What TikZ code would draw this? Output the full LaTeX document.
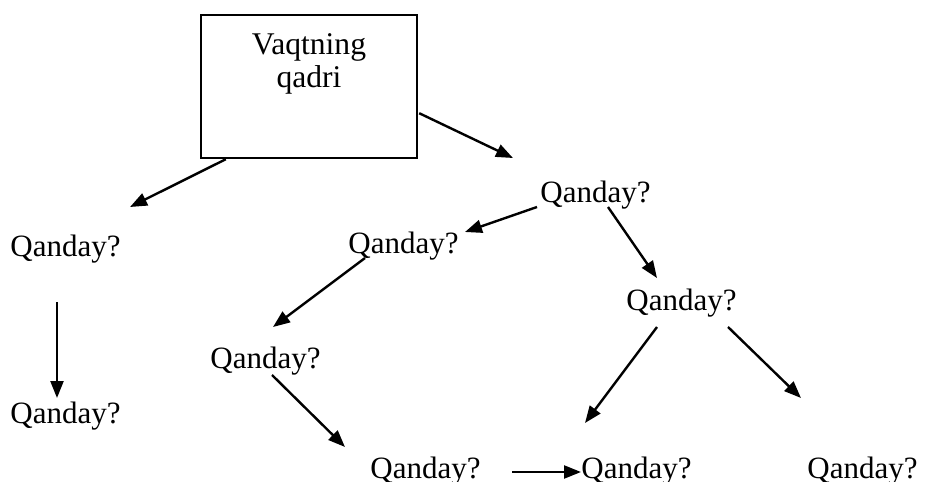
\documentclass[tikz,border=0pt]{standalone}
\usepackage{fontspec}
\setmainfont{Liberation Serif}
\usetikzlibrary{positioning}
\usetikzlibrary{calc}
\usetikzlibrary{arrows.meta}
\tikzset{>={Triangle[length=8.5pt,width=6.5pt]}}
\tikzset{titlebox/.style={rectangle, draw, line width=1.2pt, minimum width=108pt, minimum height=71.5pt, inner sep=0pt}}
\tikzset{titletext/.style={font=\fontsize{15.8}{16.5}\selectfont, align=center, inner sep=0pt, anchor=north}}
\tikzset{question/.style={font=\fontsize{15.5}{16.5}\selectfont, inner sep=0pt, anchor=base west}}
\tikzset{link/.style={->, line width=1.2pt}}

\begin{document}
\begin{tikzpicture}[x=0.5pt, y=-0.5pt]

    \useasboundingbox (0,0) rectangle (928,482);

    % Title box.
    \node [titlebox] (title) at (309,86.5) {};
    \node [titletext] (titlelabel) at ($(title.north) + (0,19)$) {Vaqtning\\qadri};

    % Questions.
    \node [question] (how0) at (540,202) {Qanday?};
    \node [question] (how1) at (10,256) {Qanday?};
    \node [question] (how2) at (10,423) {Qanday?};
    \node [question] (how3) at (348,253) {Qanday?};
    \node [question] (how4) at (626,310) {Qanday?};
    \node [question] (how5) at (210,368) {Qanday?};
    \node [question] (how6) at (370,478) {Qanday?};
    \node [question] (how7) at (581,478) {Qanday?};
    \node [question] (how8) at (807,478) {Qanday?};

    % Lines from the title box.
    \draw [link] ($(title.south west) + (26,0)$) -- ($(how1.base west) + (120,-49)$);
    \draw [link] ($(title.south east) + (1,-46)$) -- ($(how0.base west) + (-27,-44)$);

    % Left branch.
    \draw [link] ($(how1.base west) + (47,46)$) -- ($(how2.base west) + (47,-25)$);

    % Right branch.
    \draw [link] ($(how0.base west) + (-3,5)$) -- ($(how3.base west) + (117,-21)$);
    \draw [link] ($(how0.base west) + (68,5)$) -- ($(how4.base west) + (31,-32)$);
    \draw [link] ($(how3.base west) + (17,5)$) -- ($(how5.base west) + (63,-41)$);
    \draw [link] ($(how5.base west) + (62,7)$) -- ($(how6.base west) + (-25,-31)$);
    \draw [link] ($(how6.base west) + (142,-6)$) -- ($(how7.base west) + (0,-6)$);
    \draw [link] ($(how4.base west) + (31,17)$) -- ($(how7.base west) + (4,-55)$);
    \draw [link] ($(how4.base west) + (102,17)$) -- ($(how8.base west) + (-6,-80)$);

\end{tikzpicture}
\end{document}
